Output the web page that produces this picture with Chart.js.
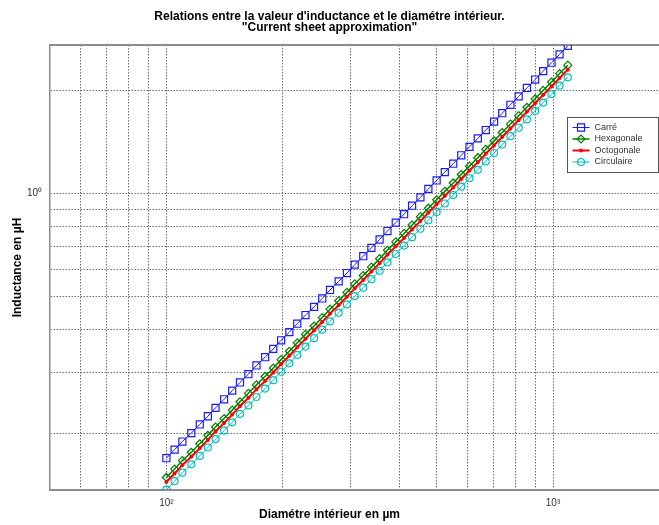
<!DOCTYPE html>
<html>
<head>
<meta charset="utf-8">
<script src="https://cdn.jsdelivr.net/npm/chart.js@4/dist/chart.umd.min.js"></script>
<style>
    body { margin: 0; background: #fff; }
    canvas { display: block; }
</style>
</head>
<body>
<canvas id="inductanceChart" width="659" height="525"></canvas>
<script>
// diamètre intérieur (µm)
const diameters = [100, 105, 110, 116, 122, 128, 134, 141, 148, 155, 163, 171, 180, 189, 198, 208, 218, 229, 241, 253,
    265, 279, 293, 307, 323, 339, 356, 373, 392, 412, 432, 454, 476, 500, 525, 552, 579, 608, 639, 670,
    704, 739, 776, 815, 856, 899, 943, 991, 1040, 1092];

// inductance (µH)
const carre = [0.169, 0.179, 0.189, 0.200, 0.212, 0.224, 0.237, 0.251, 0.266, 0.281, 0.297, 0.315, 0.333, 0.352, 0.373, 0.394, 0.417, 0.442, 0.467, 0.494,
    0.523, 0.554, 0.586, 0.620, 0.656, 0.694, 0.734, 0.777, 0.822, 0.870, 0.921, 0.974, 1.031, 1.091, 1.154, 1.221, 1.292, 1.367, 1.447, 1.531,
    1.620, 1.714, 1.814, 1.919, 2.031, 2.149, 2.273, 2.406, 2.545, 2.693];
const hexagonale = [0.1485, 0.1571, 0.1663, 0.1759, 0.1862, 0.1970, 0.2084, 0.2205, 0.2334, 0.2469, 0.2613, 0.2765, 0.2926, 0.3096, 0.3276, 0.3466, 0.3667, 0.3881, 0.4106, 0.4345,
    0.4597, 0.4865, 0.5147, 0.5447, 0.5763, 0.6098, 0.6453, 0.6828, 0.7225, 0.7645, 0.8089, 0.8559, 0.9057, 0.9583, 1.0140, 1.0730, 1.1354, 1.2014, 1.2712, 1.3451,
    1.4233, 1.5060, 1.5936, 1.6862, 1.7842, 1.8879, 1.9976, 2.1138, 2.2367, 2.3667];
const octogonale = [0.1441, 0.1525, 0.1613, 0.1707, 0.1806, 0.1911, 0.2023, 0.2140, 0.2265, 0.2396, 0.2535, 0.2683, 0.2839, 0.3004, 0.3178, 0.3363, 0.3559, 0.3766, 0.3984, 0.4216,
    0.4461, 0.4720, 0.4995, 0.5285, 0.5593, 0.5918, 0.6262, 0.6626, 0.7011, 0.7418, 0.7849, 0.8306, 0.8789, 0.9299, 0.9840, 1.0412, 1.1017, 1.1658, 1.2335, 1.3052,
    1.3811, 1.4614, 1.5463, 1.6362, 1.7313, 1.8320, 1.9385, 2.0512, 2.1704, 2.2966];
const circulaire = [0.1369, 0.1449, 0.1533, 0.1622, 0.1716, 0.1816, 0.1921, 0.2033, 0.2151, 0.2276, 0.2409, 0.2549, 0.2697, 0.2854, 0.3020, 0.3195, 0.3381, 0.3577, 0.3785, 0.4005,
    0.4238, 0.4485, 0.4745, 0.5021, 0.5313, 0.5622, 0.5949, 0.6294, 0.6660, 0.7048, 0.7457, 0.7891, 0.8349, 0.8835, 0.9348, 0.9892, 1.0467, 1.1075, 1.1719, 1.2400,
    1.3121, 1.3884, 1.4691, 1.5545, 1.6448, 1.7404, 1.8416, 1.9486, 2.0619, 2.1818];

// grid lines (log) and labelled ticks
const xGrid = [60, 70, 80, 90, 100, 200, 300, 400, 500, 600, 700, 800, 900, 1000];
const yGrid = [0.2, 0.3, 0.4, 0.5, 0.6, 0.7, 0.8, 0.9, 1, 2];
const xLabels = { 100: '10²', 1000: '10³' };
const yLabels = { 1: '10⁰' };

const FONT = 'Liberation Sans, Arial, sans-serif';
const gridColor = '#6f6f6f';
const frameColor = '#8c8c8c';

// MATLAB-style boxed legend in the upper right corner
const boxLegend = {
    id: 'boxLegend',
    afterDraw(chart) {
        const ctx = chart.ctx;
        const left = 567.5, top = 117.5, w = 91, h = 55;
        ctx.save();
        ctx.fillStyle = '#fff';
        ctx.fillRect(left, top, w, h);
        ctx.strokeStyle = '#555';
        ctx.lineWidth = 1;
        ctx.strokeRect(left, top, w, h);

        chart.data.datasets.forEach((ds, i) => {
            const y = top + 10 + i * 11.5;
            ctx.strokeStyle = ds.borderColor;
            ctx.lineWidth = ds.borderWidth;
            ctx.beginPath();
            ctx.moveTo(left + 5, y);
            ctx.lineTo(left + 22, y);
            ctx.stroke();

            ctx.fillStyle = ds.pointBackgroundColor;
            ctx.lineWidth = ds.pointBorderWidth;
            Chart.helpers.drawPoint(ctx, {
                pointStyle: ds.pointStyle,
                radius: ds.pointRadius,
                rotation: 0,
                borderWidth: ds.pointBorderWidth
            }, left + 13.5, y);

            ctx.fillStyle = '#333';
            ctx.font = '9px ' + FONT;
            ctx.textBaseline = 'middle';
            ctx.fillText(ds.label, left + 27, y);
        });
        ctx.restore();
    }
};

const ctx = document.getElementById('inductanceChart').getContext('2d');

new Chart(ctx, {
    type: 'line',
    data: {
        labels: diameters,
        datasets: [
            {
                label: 'Carré',
                data: carre,
                borderColor: '#1a1aff',
                borderWidth: 1,
                pointStyle: 'rect',
                pointRadius: 5,
                pointBorderWidth: 1.2,
                pointBorderColor: '#1a1aff',
                pointBackgroundColor: 'rgba(0,0,0,0)',
                order: 3
            },
            {
                label: 'Hexagonale',
                data: hexagonale,
                borderColor: '#008000',
                borderWidth: 1.5,
                pointStyle: 'rectRot',
                pointRadius: 4,
                pointBorderWidth: 1.2,
                pointBorderColor: '#008000',
                pointBackgroundColor: 'rgba(0,0,0,0)',
                order: 2
            },
            {
                label: 'Octogonale',
                data: octogonale,
                borderColor: '#ff0000',
                borderWidth: 2,
                pointStyle: 'circle',
                pointRadius: 1.5,
                pointBorderWidth: 1,
                pointBorderColor: '#ff0000',
                pointBackgroundColor: '#ff0000',
                order: 1
            },
            {
                label: 'Circulaire',
                data: circulaire,
                borderColor: '#00bdbd',
                borderWidth: 1,
                pointStyle: 'circle',
                pointRadius: 3.5,
                pointBorderWidth: 1.2,
                pointBorderColor: '#00bdbd',
                pointBackgroundColor: 'rgba(0,0,0,0)',
                order: 0
            }
        ]
    },
    options: {
        responsive: false,
        animation: false,
        layout: { padding: 0, autoPadding: false },
        elements: { line: { tension: 0 } },
        plugins: {
            legend: { display: false },
            tooltip: { enabled: false },
            title: {
                display: true,
                text: ["Relations entre la valeur d'inductance et le diamétre intérieur.", '"Current sheet approximation"'],
                color: '#000',
                font: { family: FONT, size: 12, weight: 'bold', lineHeight: 0.95 },
                padding: { top: 10.5, bottom: 11.7 }
            },
            subtitle: {
                display: true,
                position: 'bottom',
                text: 'Diamétre intérieur en µm',
                color: '#000',
                font: { family: FONT, size: 12, weight: 'bold', lineHeight: 1.2 },
                padding: { top: 0, bottom: 3 }
            }
        },
        scales: {
            x: {
                type: 'logarithmic',
                position: 'bottom',
                min: 50,
                max: 1880,
                afterBuildTicks: (scale) => {
                    scale.ticks = xGrid.map(v => ({ value: v }));
                },
                afterFit: (scale) => {
                    scale.height = 525 - 490 - 17.4;
                    scale.paddingLeft = 0;
                    scale.paddingRight = 0;
                },
                ticks: {
                    autoSkip: false,
                    maxRotation: 0,
                    padding: 7,
                    color: '#333',
                    font: { family: FONT, size: 10 },
                    callback: (value) => xLabels[value] || ''
                },
                grid: { color: gridColor, lineWidth: 1, drawTicks: false },
                border: { color: frameColor, width: 2, dash: [1.5, 1.5] }
            },
            xTop: {
                type: 'linear',
                position: 'top',
                ticks: { display: false },
                grid: { display: false, drawTicks: false },
                border: { color: frameColor, width: 2 },
                afterFit: (scale) => {
                    scale.paddingLeft = 0;
                    scale.paddingRight = 0;
                }
            },
            y: {
                type: 'logarithmic',
                position: 'left',
                min: 0.1365,
                max: 2.71,
                afterBuildTicks: (scale) => {
                    scale.ticks = yGrid.map(v => ({ value: v }));
                },
                afterFit: (scale) => {
                    scale.width = 50;
                    scale.paddingTop = 0;
                    scale.paddingBottom = 0;
                },
                ticks: {
                    autoSkip: false,
                    padding: 8,
                    color: '#333',
                    font: { family: FONT, size: 10 },
                    callback: (value) => yLabels[value] || ''
                },
                grid: { color: gridColor, lineWidth: 1, drawTicks: false },
                border: { color: frameColor, width: 1.5, dash: [1.5, 1.5] },
                title: {
                    display: true,
                    text: 'Inductance en µH',
                    color: '#000',
                    font: { family: FONT, size: 12, weight: 'bold', lineHeight: 1.2 },
                    padding: { top: 10.8, bottom: 0 }
                }
            }
        }
    },
    plugins: [boxLegend]
});
</script>
</body>
</html>
